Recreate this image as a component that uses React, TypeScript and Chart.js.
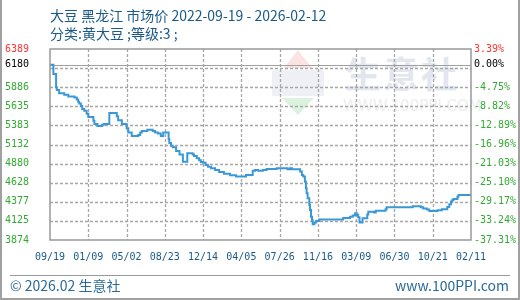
import React, { useEffect, useRef } from 'react';
import { Chart, registerables } from 'chart.js';

Chart.register(...registerables);

// day offsets from 2022-09-19 where the price changes
const days = [
  0, 10, 18, 20, 27, 42, 54, 72, 79, 83, 86, 91, 95, 101, 108, 113, 128, 131, 140, 154,
  159, 175, 197, 201, 212, 226, 231, 241, 260, 266, 271, 287, 303, 310, 319, 327, 334, 350, 352, 357,
  362, 372, 382, 392, 405, 421, 425, 433, 440, 445, 452, 459, 466, 475, 487, 499, 513, 531, 549, 578,
  598, 605, 614, 628, 639, 669, 701, 708, 714, 738, 743, 747, 752, 755, 757, 760, 765, 767, 770, 773,
  775, 780, 785, 794, 865, 885, 893, 900, 905, 909, 913, 922, 936, 939, 956, 961, 990, 993, 1070, 1094,
  1101, 1112, 1119, 1143, 1156, 1172, 1178, 1183, 1187, 1190, 1202, 1205, 1242,
];
const prices = [
  6180, 6060, 5885, 5850, 5805, 5785, 5765, 5750, 5725, 5695, 5670, 5640, 5600, 5575, 5535, 5495, 5445, 5400, 5375, 5390,
  5400, 5545, 5505, 5450, 5400, 5345, 5290, 5245, 5255, 5290, 5310, 5325, 5310, 5290, 5275, 5245, 5290, 5200, 5150, 5115,
  5095, 5045, 5000, 4905, 5015, 5000, 4980, 4950, 4925, 4900, 4890, 4860, 4840, 4820, 4795, 4770, 4745, 4725, 4710, 4730,
  4785, 4795, 4785, 4795, 4810, 4820, 4805, 4820, 4805, 4775, 4730, 4710, 4640, 4555, 4490, 4425, 4335, 4270, 4180, 4135,
  4080, 4105, 4125, 4145, 4165, 4180, 4195, 4225, 4205, 4175, 4105, 4160, 4210, 4245, 4235, 4260, 4280, 4305, 4320, 4305,
  4290, 4275, 4255, 4265, 4280, 4310, 4345, 4380, 4400, 4415, 4445, 4465, 4465,
];

const totalDays = 1242;
const xTickLabels = ['09/19', '01/09', '05/02', '08/23', '12/14', '04/05', '07/26', '11/16', '03/09', '06/30', '10/21', '02/11'];

const minValue = 3874;
const maxValue = 6389;
const baseValue = 6180;
const yTickValues = [3874, 4125.5, 4377, 4628.5, 4880, 5131.5, 5383, 5634.5, 5886, 6137.5, 6180, 6389];
const yTickLabels = ['3874', '4125', '4377', '4628', '4880', '5132', '5383', '5635', '5886', '', '6180', '6389'];
const pctTickLabels = ['-37.31%', '-33.24%', '-29.17%', '-25.10%', '-21.03%', '-16.96%', '-12.89%', '-8.82%', '-4.75%', '', '0.00%', '3.39%'];

const titleText = '大豆 黑龙江 市场价 2022-09-19 - 2026-02-12';
const subtitleText = '分类:黄大豆 ;等级:3 ;';
const footerLeft = '© 2026.02 生意社';
const footerRight = 'www.100PPI.com';

const labelColor = (i: number) => (i === yTickValues.length - 1 ? '#ff3333' : yTickValues[i] === baseValue ? '#000000' : '#33aa33');
const mono = 'DejaVu Sans Mono';
const cjk = '"Noto Sans CJK SC", "Noto Sans", sans-serif';

const gridPlugin = {
  id: 'gridAndFrame',
  beforeDatasetsDraw(chart: any) {
    const { ctx, chartArea, scales } = chart;
    const { left, right, top, bottom } = chartArea;
    ctx.save();
    ctx.lineWidth = 1.3;
    ctx.strokeStyle = '#a6a6a6';
    ctx.setLineDash([3, 2]);
    ctx.beginPath();
    scales.x.ticks.forEach((t: any, i: number) => {
      if (i === 0 || i === scales.x.ticks.length - 1) return;
      const x = Math.round(scales.x.getPixelForValue(t.value)) + 0.5;
      ctx.moveTo(x, top);
      ctx.lineTo(x, bottom);
    });
    scales.y.ticks.forEach((t: any) => {
      if (t.value === minValue || t.value === maxValue || t.value === baseValue) return;
      const y = Math.round(scales.y.getPixelForValue(t.value)) + 0.5;
      ctx.moveTo(left, y);
      ctx.lineTo(right, y);
    });
    ctx.stroke();
    ctx.setLineDash([]);
    ctx.lineWidth = 1;
    ctx.strokeStyle = '#a0a0a0';
    const yb = Math.round(scales.y.getPixelForValue(baseValue)) + 0.5;
    ctx.beginPath();
    ctx.moveTo(left, yb);
    ctx.lineTo(right, yb);
    ctx.stroke();
    ctx.restore();
  },
  afterDraw(chart: any) {
    const { ctx, chartArea } = chart;
    ctx.save();
    ctx.strokeStyle = '#999999';
    ctx.lineWidth = 1.5;
    ctx.strokeRect(chartArea.left, chartArea.top, chartArea.right - chartArea.left, chartArea.bottom - chartArea.top);
    ctx.restore();
  },
};

export default function App() {
  const ref = useRef<HTMLCanvasElement>(null);
  useEffect(() => {
    if (!ref.current) return;
    const chart = new Chart(ref.current, {
      type: 'line',
      data: {
        datasets: [
          {
            data: days.map((d, i) => ({ x: d, y: prices[i] })),
            borderColor: '#3a98d8',
            borderWidth: 2,
            pointRadius: 0,
            stepped: true,
            fill: false,
            yAxisID: 'y',
          },
        ],
      },
      options: {
        responsive: false,
        animation: false,
        devicePixelRatio: 1,
        layout: { padding: { left: 5, right: 0, top: 49, bottom: 35 } },
        plugins: { legend: { display: false }, tooltip: { enabled: false }, title: { display: false } },
        scales: {
          x: {
            type: 'linear',
            min: 0,
            max: totalDays,
            afterBuildTicks: (s: any) => {
              s.ticks = xTickLabels.map((_, i) => ({ value: (i * totalDays) / (xTickLabels.length - 1) }));
            },
            afterFit: (s: any) => {
              s.height = 25;
            },
            ticks: {
              autoSkip: false,
              maxRotation: 0,
              padding: 11,
              color: '#1a5a8a',
              font: { family: mono, size: 10 },
              callback: (_v: any, i: number) => xTickLabels[i],
            },
            grid: { display: false, drawTicks: false },
            border: { display: false },
          },
          y: {
            type: 'linear',
            position: 'left',
            min: minValue,
            max: maxValue,
            afterBuildTicks: (s: any) => {
              s.ticks = yTickValues.map((v) => ({ value: v }));
            },
            afterFit: (s: any) => {
              s.width = 45;
            },
            ticks: {
              autoSkip: false,
              crossAlign: 'far',
              padding: 3,
              font: { family: mono, size: 10 },
              color: (c: any) => labelColor(c.index),
              callback: (_v: any, i: number) => yTickLabels[i],
            },
            grid: { display: false, drawTicks: false },
            border: { display: false },
          },
          y2: {
            type: 'linear',
            position: 'right',
            min: minValue,
            max: maxValue,
            afterBuildTicks: (s: any) => {
              s.ticks = yTickValues.map((v) => ({ value: v }));
            },
            afterFit: (s: any) => {
              s.width = 49;
            },
            ticks: {
              autoSkip: false,
              crossAlign: 'near',
              padding: 3,
              font: { family: mono, size: 10 },
              color: (c: any) => labelColor(c.index),
              callback: (_v: any, i: number) => pctTickLabels[i],
            },
            grid: { display: false, drawTicks: false },
            border: { display: false },
          },
        },
      },
      plugins: [gridPlugin],
    } as any);
    return () => chart.destroy();
  }, []);

  const abs = (s: React.CSSProperties): React.CSSProperties => ({ position: 'absolute', ...s });

  return (
    <div style={{ position: 'absolute', left: 0, top: 0, width: 520, height: 300, background: '#ffffff', overflow: 'hidden' }}>
      {/* watermark */}
      <div style={abs({ left: 284, top: 50, width: 0, height: 0, borderLeft: '14px solid transparent', borderRight: '14px solid transparent', borderBottom: '18px solid #fbe3e3' })} />
      <div style={abs({ left: 272, top: 70, width: 52, height: 26, background: '#eef0f5' })} />
      <div style={abs({ left: 282, top: 98, width: 0, height: 0, borderLeft: '16px solid transparent', borderRight: '16px solid transparent', borderTop: '17px solid #dcf2e0' })} />
      <div style={abs({ left: 345, top: 50, fontFamily: cjk, fontWeight: 700, fontSize: 36, lineHeight: '44px', color: '#e2e6ef', letterSpacing: 2 })}>生意社</div>
      <div style={abs({ left: 343, top: 97, fontFamily: '"DejaVu Sans", sans-serif', fontSize: 15, lineHeight: '18px', color: '#eeeeee' })}>WWW.100PPI.COM</div>

      <canvas ref={ref} width={520} height={300} style={abs({ left: 0, top: 0, width: 520, height: 300 })} />

      <div style={abs({ left: 50, top: 5, fontFamily: cjk, fontSize: 14, lineHeight: '20px', color: '#1a5a8a', whiteSpace: 'nowrap' })}>{titleText}</div>
      <div style={abs({ left: 50, top: 23, fontFamily: cjk, fontSize: 14, lineHeight: '20px', color: '#1a5a8a', whiteSpace: 'nowrap' })}>{subtitleText}</div>

      <div style={abs({ left: 10, top: 275, width: 500, height: 1, background: '#999999' })} />
      <div style={abs({ left: 10, top: 275, fontFamily: cjk, fontSize: 14, lineHeight: '20px', color: '#2a6a9a', whiteSpace: 'nowrap' })}>{footerLeft}</div>
      <div style={abs({ right: 11, top: 275, fontFamily: cjk, fontSize: 14, lineHeight: '20px', color: '#2a6a9a', whiteSpace: 'nowrap' })}>{footerRight}</div>

      <div style={abs({ left: 0, top: 0, width: 520, height: 300, boxSizing: 'border-box', borderLeft: '2px solid #a0a0a0', borderRight: '2px solid #a0a0a0', borderBottom: '2px solid #a0a0a0', pointerEvents: 'none' })} />
    </div>
  );
}
